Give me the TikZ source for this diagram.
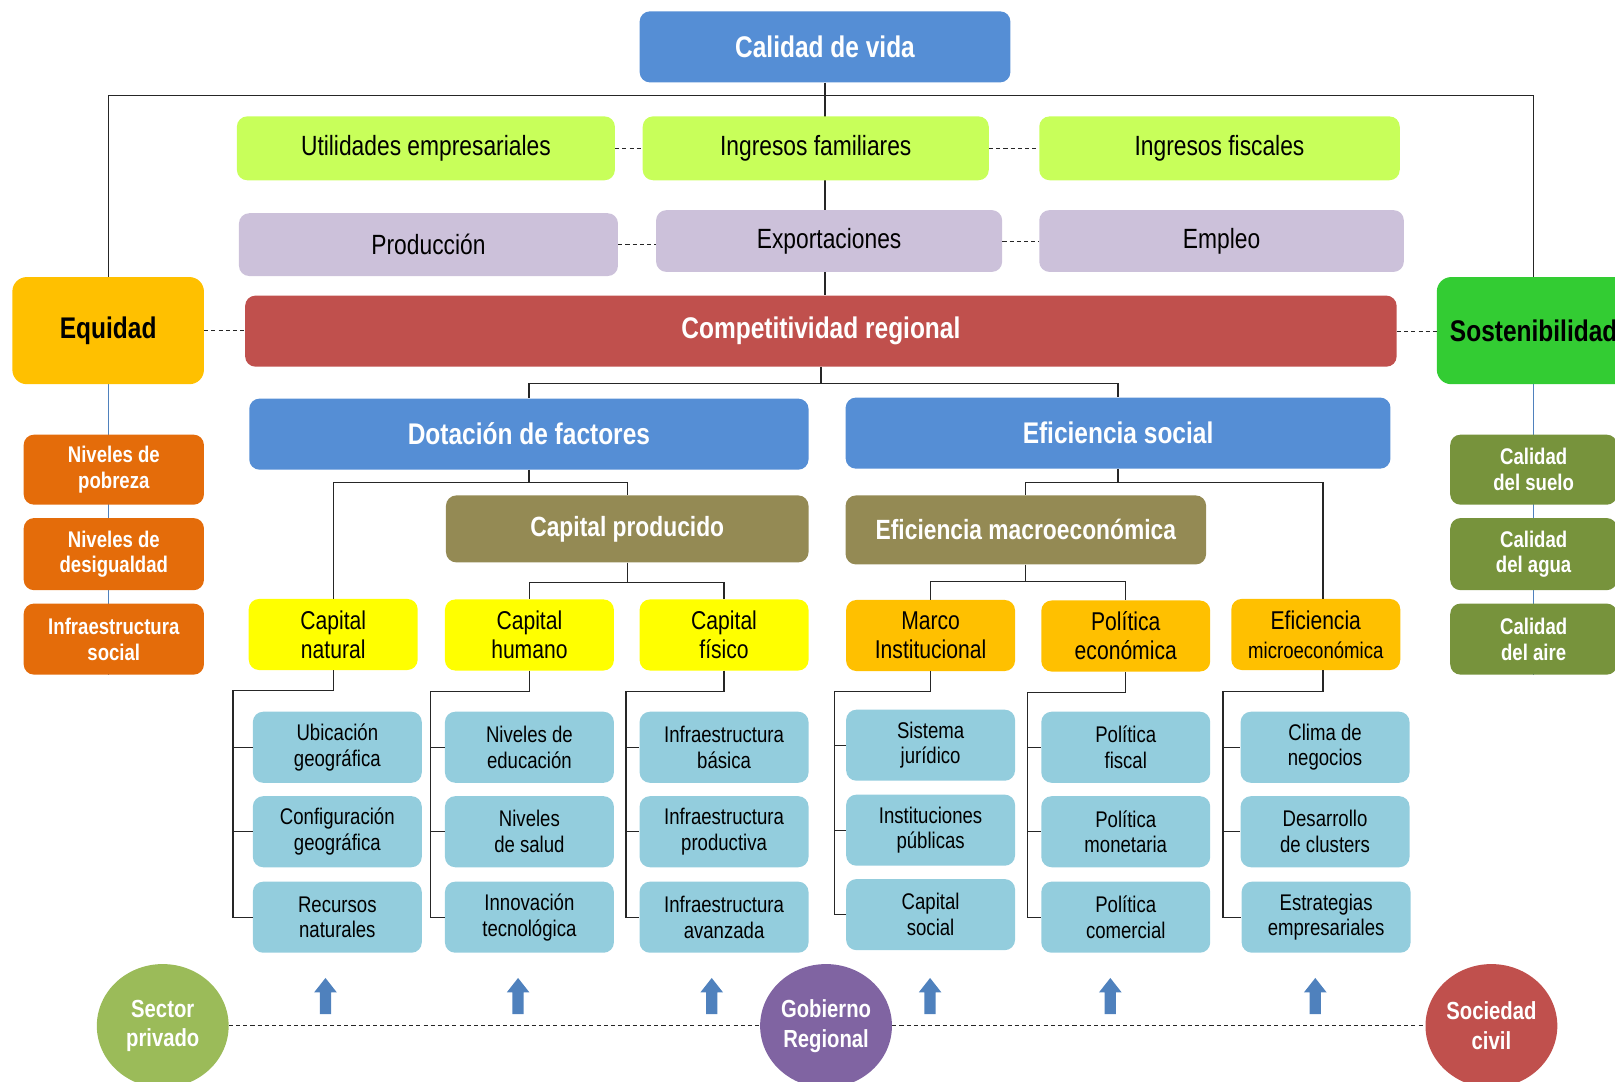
\documentclass[tikz,border=0pt]{standalone}
\usepackage{fontspec}
\setmainfont[FakeStretch=0.82]{Liberation Sans}
\usetikzlibrary{shapes.geometric,backgrounds,calc}
\definecolor{hblue}{HTML}{558ED5}
\definecolor{lgreen}{HTML}{C8FF5A}
\definecolor{lav}{HTML}{CCC1DA}
\definecolor{cred}{HTML}{C0504D}
\definecolor{gold}{HTML}{FFC000}
\definecolor{sgreen}{HTML}{33CC33}
\definecolor{orng}{HTML}{E46C0A}
\definecolor{ogreen}{HTML}{77933C}
\definecolor{obrown}{HTML}{948A54}
\definecolor{yel}{HTML}{FFFF00}
\definecolor{lblue}{HTML}{93CDDD}
\definecolor{cgreen}{HTML}{9BBB59}
\definecolor{cpurple}{HTML}{8064A2}
\definecolor{arrblue}{HTML}{4F81BD}
\begin{document}
\begin{tikzpicture}[x=1pt,y=-1pt,
  base/.style={rectangle, rounded corners=10pt, draw=none, align=center, inner sep=1pt},
  hdr/.style={base, fill=hblue, text=white, font=\fontsize{29}{33}\selectfont\bfseries},
  rowg/.style={base, fill=lgreen, text=black, font=\fontsize{27}{31}\selectfont},
  rowl/.style={base, fill=lav, text=black, font=\fontsize{27}{31}\selectfont},
  side/.style={base, rounded corners=14pt, text=black, font=\fontsize{29}{33}\selectfont\bfseries, minimum height=104},
  lbox/.style={base, fill=orng, text=white, font=\fontsize{22}{25}\selectfont\bfseries, minimum width=175},
  rbox/.style={base, fill=ogreen, text=white, font=\fontsize{22}{25}\selectfont\bfseries, minimum width=162},
  mid/.style={base, fill=obrown, text=white, font=\fontsize{27}{31}\selectfont\bfseries},
  ybox/.style={base, fill=yel, text=black, font=\fontsize{25}{28}\selectfont, minimum width=164, minimum height=69},
  obox/.style={base, fill=gold, text=black, font=\fontsize{25}{28}\selectfont, minimum width=164, minimum height=69},
  bbox/.style={base, fill=lblue, text=black, font=\fontsize{22}{25}\selectfont, minimum width=164, minimum height=69},
  actor/.style={ellipse, draw=none, inner sep=0pt, minimum width=128, minimum height=120, text=white, align=center, font=\fontsize{24}{29}\selectfont\bfseries},
  conn/.style={draw=black!85, line width=1.2pt},
  dashln/.style={draw=black!85, line width=1pt, dash pattern=on 4pt off 3pt},
  bline/.style={draw=arrblue, line width=0.9pt},
  uparr/.pic={\fill[arrblue] (-5.5,17.5) -- (-5.5,-3.5) -- (-11,-3.5) -- (0,-17.5) -- (11,-3.5) -- (5.5,-3.5) -- (5.5,17.5) -- cycle;}
]
\useasboundingbox (0,0) rectangle (1568,1050);
\clip (0,0) rectangle (1568,1050);

% top
\node[hdr, minimum width=360, minimum height=69] (cal) at (801,45.5) {Calidad de vida};
\node[rowg, minimum width=367, minimum height=62] (ut) at (413.5,144) {Utilidades empresariales};
\node[rowg, minimum width=336, minimum height=62] (if) at (792,144) {Ingresos familiares};
\node[rowg, minimum width=350, minimum height=62] (ifs) at (1184,144) {Ingresos fiscales};
\node[rowl, minimum width=368, minimum height=61] (pr) at (416,237.5) {Producción};
\node[rowl, minimum width=336, minimum height=60] (ex) at (805,234) {Exportaciones};
\node[rowl, minimum width=354, minimum height=60] (em) at (1186,234) {Empleo};
\node[base, fill=cred, text=white, font=\fontsize{29}{33}\selectfont\bfseries, minimum width=1118, minimum height=69] (comp) at (797,321.5) {Competitividad regional};
\node[side, fill=gold, minimum width=186] (eq) at (105,321) {Equidad};
\node[side, fill=sgreen, minimum width=188] (sos) at (1489,321) {Sostenibilidad};

% side columns
\node[lbox, minimum height=68] (np) at (110.5,456) {Niveles de\\pobreza};
\node[lbox, minimum height=70] (nd) at (110.5,538) {Niveles de\\desigualdad};
\node[lbox, minimum height=69] (is) at (110.5,620.5) {Infraestructura\\social};
\node[rbox, minimum height=68] (cs) at (1489,456) {Calidad\\del suelo};
\node[rbox, minimum height=70] (ca) at (1489,538) {Calidad\\del agua};
\node[rbox, minimum height=69] (cai) at (1489,620.5) {Calidad\\del aire};

% level 2
\node[hdr, minimum width=543, minimum height=69] (dot) at (513.5,421.5) {Dotación de factores};
\node[hdr, minimum width=529, minimum height=69] (efs) at (1085.5,420.5) {Eficiencia social};
\node[mid, minimum width=352, minimum height=65] (cp) at (609,513.5) {Capital producido};
\node[mid, minimum width=350, minimum height=67] (mac) at (996,514.5) {Eficiencia macroeconómica};

% level 3
\node[ybox] (cn) at (323.5,616) {Capital\\natural};
\node[ybox] (ch) at (514,616.5) {Capital\\humano};
\node[ybox] (cf) at (703,616.5) {Capital\\físico};
\node[obox] (mi) at (903.5,617) {Marco\\Institucional};
\node[obox] (pe) at (1093,617.5) {Política\\económica};
\node[obox] (emi) at (1277.5,616) {Eficiencia\\{\fontsize{22}{25}\selectfont microeconómica}};

% level 4
\node[bbox] (b11) at (327.5,725.5) {Ubicación\\geográfica};
\node[bbox] (b12) at (327.5,807.5) {Configuración\\geográfica};
\node[bbox] (b13) at (327.5,890.5) {Recursos\\naturales};
\node[bbox] (b21) at (514,725.5) {Niveles de\\educación};
\node[bbox] (b22) at (514,807.5) {Niveles\\de salud};
\node[bbox] (b23) at (514,890.5) {Innovación\\tecnológica};
\node[bbox] (b31) at (703,725.5) {Infraestructura\\básica};
\node[bbox] (b32) at (703,807.5) {Infraestructura\\productiva};
\node[bbox] (b33) at (703,890.5) {Infraestructura\\avanzada};
\node[bbox] (b41) at (903.5,723.5) {Sistema\\jurídico};
\node[bbox] (b42) at (903.5,806) {Instituciones\\públicas};
\node[bbox] (b43) at (903.5,888) {Capital\\social};
\node[bbox] (b51) at (1093,725.5) {Política\\fiscal};
\node[bbox] (b52) at (1093,807.5) {Política\\monetaria};
\node[bbox] (b53) at (1093,890.5) {Política\\comercial};
\node[bbox] (b61) at (1286.5,725.5) {Clima de\\negocios};
\node[bbox] (b62) at (1286.5,807.5) {Desarrollo\\de clusters};
\node[bbox] (b63) at (1287.5,890.5) {Estrategias\\empresariales};

% actors
\node[actor, fill=cgreen] (sp) at (158,996) {Sector\\privado};
\node[actor, fill=cpurple] (gr) at (802,996) {Gobierno\\Regional};
\node[actor, fill=cred] (sc) at (1448,996) {Sociedad\\civil};

% arrows
\pic at (316,967) {uparr};
\pic at (503,967) {uparr};
\pic at (691,967) {uparr};
\pic at (903,967) {uparr};
\pic at (1078,967) {uparr};
\pic at (1277,967) {uparr};

\coordinate (bar) at (801,93);
\begin{scope}[on background layer]
  \draw[conn] (cal.south) -- (cal.south |- comp.north);
  \draw[conn] (eq.north) |- (bar) -| (sos.north);
  \draw[bline] (eq.south) -- (eq.south |- is.south);
  \draw[bline] (sos.south) -- (sos.south |- cai.south);
\end{scope}

% dashed links
\draw[dashln] (ut.east) -- (ut.east -| if.west);
\draw[dashln] (if.east) -- (if.east -| ifs.west);
\draw[dashln] (pr.east) -- (pr.east -| ex.west);
\draw[dashln] (ex.east) -- (ex.east -| em.west);
\draw[dashln] (eq.east) -- (eq.east -| comp.west);
\draw[dashln] (comp.east) -- (comp.east -| sos.west);
\draw[dashln] (sp.east) -- (gr.west);
\draw[dashln] (gr.east) -- (sc.west);

% tree
\draw[conn] (comp.south) -- ++(0,16) -| (dot.north);
\draw[conn] (comp.south) -- ++(0,16) -| (efs.north);
\draw[conn] (dot.south) -- ++(0,12) -| (cn.north);
\draw[conn] (dot.south) -- ++(0,12) -| (cp.north);
\draw[conn] (cp.south) -- ++(0,19) -| (ch.north);
\draw[conn] (cp.south) -- ++(0,19) -| (cf.north);
\draw[conn] (efs.south) -- ++(0,13) -| (mac.north);
\draw[conn] (efs.south) -- ++(0,13) -| ([xshift=7pt]emi.north);
\draw[conn] (mac.south) -- ++(0,16) -| (mi.north);
\draw[conn] (mac.south) -- ++(0,16) -| (pe.north);

% sub-trees
\draw[conn] (cn.south) -- ++(0,20) -| ([xshift=-19pt]b13.west) -- (b13.west);
\draw[conn] ([xshift=-19pt]b11.west) -- (b11.west);
\draw[conn] ([xshift=-19pt]b12.west) -- (b12.west);
\draw[conn] (ch.south) -- ++(0,20) -| ([xshift=-14pt]b23.west) -- (b23.west);
\draw[conn] ([xshift=-14pt]b21.west) -- (b21.west);
\draw[conn] ([xshift=-14pt]b22.west) -- (b22.west);
\draw[conn] (cf.south) -- ++(0,20) -| ([xshift=-13pt]b33.west) -- (b33.west);
\draw[conn] ([xshift=-13pt]b31.west) -- (b31.west);
\draw[conn] ([xshift=-13pt]b32.west) -- (b32.west);
\draw[conn] (mi.south) -- ++(0,20) -| ([xshift=-11pt]b43.west) -- (b43.west);
\draw[conn] ([xshift=-11pt]b41.west) -- (b41.west);
\draw[conn] ([xshift=-11pt]b42.west) -- (b42.west);
\draw[conn] (pe.south) -- ++(0,20) -| ([xshift=-13pt]b53.west) -- (b53.west);
\draw[conn] ([xshift=-13pt]b51.west) -- (b51.west);
\draw[conn] ([xshift=-13pt]b52.west) -- (b52.west);
\draw[conn] ([xshift=7pt]emi.south) -- ++(0,21) -| ([xshift=-17pt]b61.west |- b63.west) -- (b63.west);
\draw[conn] ([xshift=-17pt]b61.west) -- (b61.west);
\draw[conn] ([xshift=-17pt]b62.west) -- (b62.west);
\end{tikzpicture}
\end{document}
